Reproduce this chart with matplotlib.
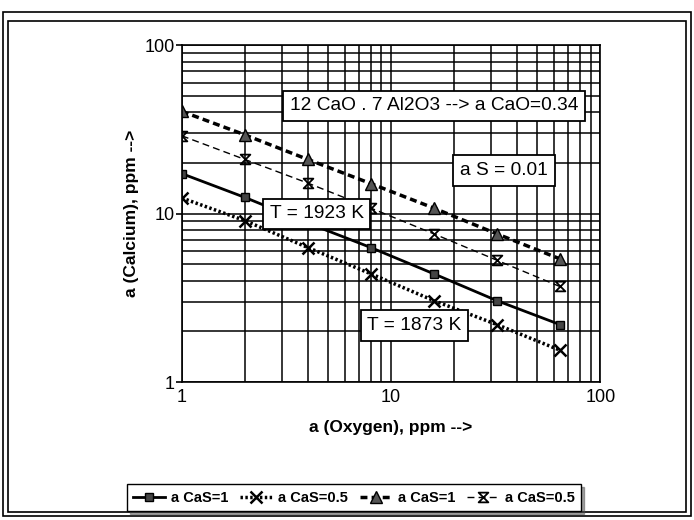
import matplotlib.pyplot as plt
import numpy as np
from matplotlib.path import Path
from matplotlib.patches import Rectangle

plt.rcParams['font.family'] = ['Liberation Sans', 'DejaVu Sans']

oxygen = [1, 2, 4, 8, 16, 32, 64]
ca_1873_cas1 = [17.3, 12.5, 8.8, 6.3, 4.4, 3.05, 2.2]
ca_1873_cas05 = [12.4, 9.1, 6.3, 4.4, 3.05, 2.2, 1.55]
ca_1923_cas1 = [40.5, 29.4, 21.0, 15.1, 10.8, 7.6, 5.4]
ca_1923_cas05 = [29.0, 21.0, 15.2, 10.8, 7.6, 5.3, 3.7]
labels = ['a CaS=1', 'a CaS=0.5', 'a CaS=1', 'a CaS=0.5']

hourglass = Path([(-1, 1), (1, 1), (-1, -1), (1, -1), (-1, 1)],
                 [Path.MOVETO, Path.LINETO, Path.LINETO, Path.LINETO, Path.CLOSEPOLY])

fig = plt.figure(figsize=(6.94, 5.2), dpi=100)
ax = fig.add_axes([0.262, 0.265, 0.603, 0.648])

l1, = ax.plot(oxygen, ca_1873_cas1, '-', color='black', lw=2, marker='s',
              ms=6, mfc='#444444', mec='black')
l2, = ax.plot(oxygen, ca_1873_cas05, color='black', lw=2.5, ls=(0, (0.7, 0.7)),
              marker='x', ms=9, mew=1.8)
l3, = ax.plot(oxygen, ca_1923_cas1, color='black', lw=2.5, ls=(0, (2, 1.2)),
              marker='^', ms=9, mfc='#555555', mec='black')
l4, = ax.plot(oxygen, ca_1923_cas05, color='black', lw=1, ls=(0, (5, 3)),
              marker=hourglass, ms=7, mfc='none', mec='black', mew=1.3)

ax.set_xscale('log')
ax.set_yscale('log')
ax.set_xlim(1, 100)
ax.set_ylim(1, 100)
ax.grid(True, which='both', color='black', lw=1.1)
for s in ax.spines.values():
    s.set_linewidth(1.2)
ax.set_xticks([1, 10, 100])
ax.set_xticklabels(['1', '10', '100'])
ax.set_yticks([1, 10, 100])
ax.set_yticklabels(['1', '10', '100'])
ax.tick_params(which='major', labelsize=13, length=4, width=1.2, pad=1)
ax.tick_params(which='minor', length=0)
ax.tick_params(axis='x', length=0, pad=5)

ax.set_xlabel('a (Oxygen), ppm -->', fontsize=12.5, fontweight='bold', labelpad=10)
ax.set_ylabel('a (Calcium), ppm -->', fontsize=12.5, fontweight='bold', labelpad=4)

box = dict(boxstyle='square,pad=0.35', fc='white', ec='black', lw=1.3)
ax.text(0.258, 0.82, '12 CaO . 7 Al2O3 --> a CaO=0.34', transform=ax.transAxes,
        fontsize=13.8, va='center', ha='left', bbox=box)
ax.text(0.665, 0.628, 'a S = 0.01', transform=ax.transAxes,
        fontsize=13.8, va='center', ha='left', bbox=box)
ax.text(0.21, 0.5, 'T = 1923 K', transform=ax.transAxes,
        fontsize=13.8, va='center', ha='left', bbox=box)
ax.text(0.443, 0.168, 'T = 1873 K', transform=ax.transAxes,
        fontsize=13.8, va='center', ha='left', bbox=box)

fig.legend([l1, l2, l3, l4], labels, loc='center', bbox_to_anchor=(0.51, 0.043),
           ncol=4, frameon=True, fancybox=False, shadow=True,
           edgecolor='black', handlelength=2.2, handletextpad=0.4,
           columnspacing=0.8, borderpad=0.45, prop={'weight': 'bold', 'size': 10.5})

fig.patches.append(Rectangle((0.004, 0.008), 0.992, 0.968, transform=fig.transFigure,
                             fill=False, ec='black', lw=1.2))
fig.patches.append(Rectangle((0.011, 0.016), 0.978, 0.944, transform=fig.transFigure,
                             fill=False, ec='black', lw=1.2))

fig.savefig('out.png', dpi=100)
